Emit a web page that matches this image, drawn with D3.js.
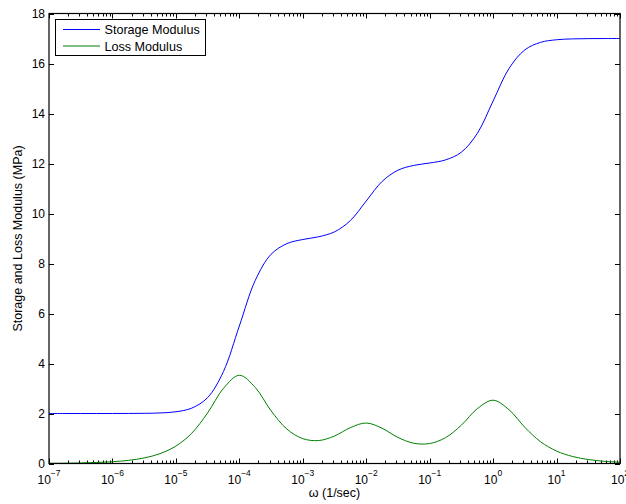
<!DOCTYPE html>
<html>
<head>
<meta charset="utf-8">
<script src="https://cdn.jsdelivr.net/npm/d3@7"></script>
<style>
  body { margin: 0; background: #fff; }
  svg text { font-family: "Liberation Sans", Arial, Helvetica, sans-serif; fill: #000; }
</style>
</head>
<body>
<svg id="chart" width="626" height="504"></svg>
<script>
// log10 of omega (1/sec), values every quarter decade
const logOmega = [-7, -6.75, -6.5, -6.25, -6, -5.75, -5.5, -5.25, -5, -4.75, -4.5, -4.25, -4,
  -3.75, -3.5, -3.25, -3, -2.75, -2.5, -2.25, -2, -1.75, -1.5, -1.25, -1, -0.75, -0.5, -0.25,
  0, 0.25, 0.5, 0.75, 1, 1.25, 1.5, 1.75, 2];

const storageModulus = [2.00, 2.00, 2.00, 2.00, 2.001, 2.002, 2.007, 2.022, 2.069, 2.215, 2.636, 3.681, 5.50,
  7.320, 8.367, 8.795, 8.960, 9.070, 9.266, 9.718, 10.50, 11.281, 11.732, 11.924, 12.020, 12.144, 12.452, 13.200,
  14.50, 15.799, 16.545, 16.847, 16.950, 16.984, 16.995, 16.998, 17.00];

const lossModulus = [0.007, 0.0125, 0.022, 0.0395, 0.070, 0.125, 0.222, 0.394, 0.696, 1.211, 2.022, 3.007, 3.53,
  3.044, 2.109, 1.377, 0.995, 0.918, 1.099, 1.434, 1.62, 1.410, 1.043, 0.810, 0.799, 1.034, 1.535, 2.191,
  2.531, 2.153, 1.447, 0.867, 0.498, 0.282, 0.159, 0.089, 0.050];

const seriesNames = ["Storage Modulus", "Loss Modulus"];
const seriesColors = ["#0000ff", "#008000"];

const yTicks = [0, 2, 4, 6, 8, 10, 12, 14, 16, 18];
const xDecades = [-7, -6, -5, -4, -3, -2, -1, 0, 1, 2];

const plotLeft = 49, plotRight = 620, plotTop = 13.5, plotBottom = 463.5;

const svg = d3.select("#chart");

const x = d3.scaleLog().domain([1e-7, 1e2]).range([plotLeft, plotRight]);
const y = d3.scaleLinear().domain([0, 18]).range([plotBottom, plotTop]);

// minor ticks 2..9 in each decade
let minorTicks = [];
xDecades.slice(0, -1).forEach(d => {
  for (let k = 2; k <= 9; k++) minorTicks.push(k * Math.pow(10, d));
});

const ticks = svg.append("g").attr("stroke", "#000").attr("stroke-width", 1);

xDecades.forEach(d => {
  const px = Math.round(x(Math.pow(10, d))) + 0.5;
  ticks.append("line").attr("x1", px).attr("x2", px).attr("y1", plotBottom).attr("y2", plotBottom - 5);
  ticks.append("line").attr("x1", px).attr("x2", px).attr("y1", plotTop).attr("y2", plotTop + 5);
});
minorTicks.forEach(v => {
  const px = Math.round(x(v)) + 0.5;
  ticks.append("line").attr("x1", px).attr("x2", px).attr("y1", plotBottom).attr("y2", plotBottom - 3);
  ticks.append("line").attr("x1", px).attr("x2", px).attr("y1", plotTop).attr("y2", plotTop + 3);
});
yTicks.forEach(v => {
  const py = Math.round(y(v)) + 0.5;
  ticks.append("line").attr("x1", plotLeft).attr("x2", plotLeft + 5).attr("y1", py).attr("y2", py);
  ticks.append("line").attr("x1", plotRight).attr("x2", plotRight - 5).attr("y1", py).attr("y2", py);
});

// curves
const line = d3.line()
  .x(d => x(Math.pow(10, d[0])))
  .y(d => y(d[1]))
  .curve(d3.curveCatmullRom.alpha(0.5));

[storageModulus, lossModulus].forEach((vals, i) => {
  svg.append("path")
    .datum(logOmega.map((l, j) => [l, vals[j]]))
    .attr("fill", "none")
    .attr("stroke", seriesColors[i])
    .attr("stroke-width", 1)
    .attr("d", line);
});

// box
svg.append("rect")
  .attr("x", plotLeft).attr("y", plotTop)
  .attr("width", plotRight - plotLeft).attr("height", plotBottom - plotTop)
  .attr("fill", "none").attr("stroke", "#000").attr("stroke-width", 1.2);

// y tick labels
yTicks.forEach(v => {
  svg.append("text")
    .attr("x", plotLeft - 4).attr("y", y(v) + 4)
    .attr("text-anchor", "end")
    .attr("font-size", 12)
    .text(v);
});

// x tick labels 10^n
xDecades.forEach(d => {
  const t = svg.append("text")
    .attr("x", x(Math.pow(10, d)))
    .attr("y", 484)
    .attr("text-anchor", "middle")
    .attr("font-size", 12);
  t.append("tspan").text("10");
  t.append("tspan")
    .attr("dy", -8)
    .attr("font-size", 8.5)
    .text(String(d).replace("-", "\u2212"));
});

// axis labels
svg.append("text")
  .attr("x", (plotLeft + plotRight) / 2).attr("y", 497)
  .attr("text-anchor", "middle")
  .attr("font-size", 12.5)
  .text("\u03c9 (1/sec)");

svg.append("text")
  .attr("transform", "translate(22," + ((plotTop + plotBottom) / 2) + ") rotate(-90)")
  .attr("text-anchor", "middle")
  .attr("font-size", 12.5)
  .text("Storage and Loss Modulus (MPa)");

// legend
const legend = svg.append("g");
legend.append("rect")
  .attr("x", 55.5).attr("y", 19.5).attr("width", 150).attr("height", 36)
  .attr("fill", "#fff").attr("stroke", "#000").attr("stroke-width", 1);
seriesNames.forEach((name, i) => {
  const ly = 29.5 + i * 16.5;
  legend.append("line")
    .attr("x1", 63).attr("x2", 100).attr("y1", ly).attr("y2", ly)
    .attr("stroke", seriesColors[i]).attr("stroke-width", 1);
  legend.append("text")
    .attr("x", 104.5).attr("y", ly + 4.5)
    .attr("font-size", 12.6)
    .text(name);
});
</script>
</body>
</html>
